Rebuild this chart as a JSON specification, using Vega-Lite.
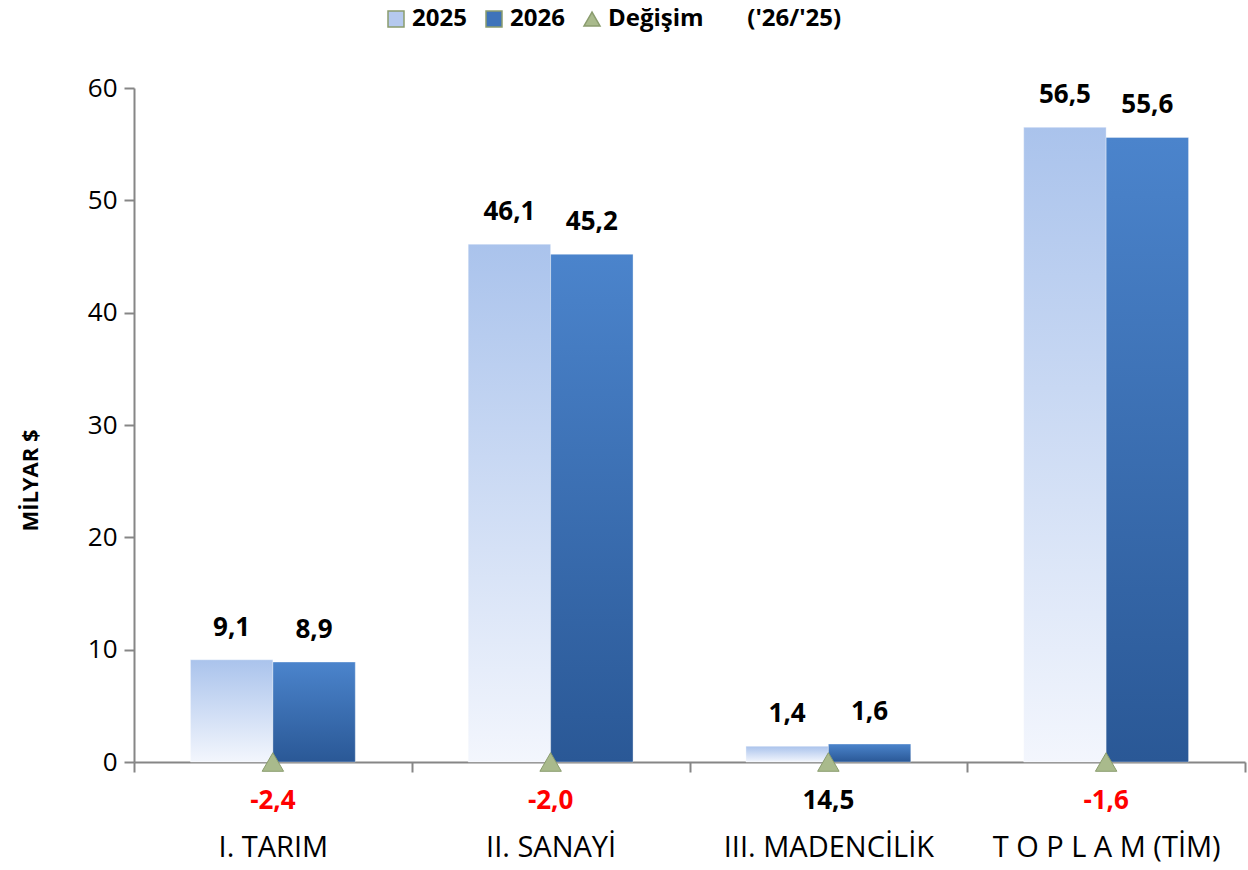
{
  "$schema": "https://vega.github.io/schema/vega-lite/v6.json",
  "width": 1111,
  "height": 674,
  "autosize": {"type": "none"},
  "padding": {"left": 134, "top": 88, "right": 3, "bottom": 108},
  "background": "white",
  "config": {
    "font": "Open Sans",
    "view": {"stroke": null},
    "locale": {"number": {"decimal": ",", "thousands": ".", "grouping": [3], "currency": ["", " $"], "minus": "-"}}
  },
  "datasets": {
    "bars": [
      {"cat": "I. TARIM", "series": "2025", "value": 9.1},
      {"cat": "I. TARIM", "series": "2026", "value": 8.9},
      {"cat": "II. SANAYİ", "series": "2025", "value": 46.1},
      {"cat": "II. SANAYİ", "series": "2026", "value": 45.2},
      {"cat": "III. MADENCİLİK", "series": "2025", "value": 1.4},
      {"cat": "III. MADENCİLİK", "series": "2026", "value": 1.6},
      {"cat": "T O P L A M (TİM)", "series": "2025", "value": 56.5},
      {"cat": "T O P L A M (TİM)", "series": "2026", "value": 55.6}
    ],
    "changes": [
      {"cat": "I. TARIM", "series": "Değişim", "base": 0, "change": -2.4},
      {"cat": "II. SANAYİ", "series": "Değişim", "base": 0, "change": -2.0},
      {"cat": "III. MADENCİLİK", "series": "Değişim", "base": 0, "change": 14.5},
      {"cat": "T O P L A M (TİM)", "series": "Değişim", "base": 0, "change": -1.6}
    ]
  },
  "layer": [
    {
      "data": {"name": "bars"},
      "mark": {"type": "bar", "stroke": "#ffffff", "strokeOpacity": 0.35, "strokeWidth": 1},
      "encoding": {
        "x": {
          "field": "cat", "type": "nominal",
          "sort": ["I. TARIM", "II. SANAYİ", "III. MADENCİLİK", "T O P L A M (TİM)"],
          "scale": {"paddingInner": 0, "paddingOuter": 0},
          "axis": {
            "title": null, "labelAngle": 0, "labelFontSize": 29, "labelColor": "#000000",
            "labelPadding": 84, "tickBand": "extent", "ticks": true, "tickSize": 10,
            "tickColor": "#868686", "tickWidth": 2, "domainColor": "#868686", "domainWidth": 2,
            "labelBaseline": "alphabetic", "labelLimit": 300
          }
        },
        "xOffset": {"field": "series", "type": "nominal", "scale": {"domain": ["2025", "2026"], "paddingInner": 0, "paddingOuter": 0.685}},
        "y": {
          "field": "value", "type": "quantitative",
          "scale": {"domain": [0, 60], "nice": false},
          "axis": {
            "title": "MİLYAR $", "titleFontSize": 22, "titleFontWeight": "bold", "titleColor": "#000000",
            "titleX": -104, "titleY": 392, "titleAngle": -90, "titleAlign": "center", "titleBaseline": "middle",
            "values": [0, 10, 20, 30, 40, 50, 60], "grid": false,
            "labelFontSize": 26, "labelColor": "#000000", "labelPadding": 7,
            "tickSize": 10, "tickColor": "#868686", "tickWidth": 2,
            "domainColor": "#868686", "domainWidth": 2
          }
        },
        "fill": {
          "condition": {
            "test": "datum.series == '2025'",
            "value": {"gradient": "linear", "x1": 0, "y1": 0, "x2": 0, "y2": 1, "stops": [{"offset": 0, "color": "#aac3ec"}, {"offset": 1, "color": "#f3f6fd"}]}
          },
          "value": {"gradient": "linear", "x1": 0, "y1": 0, "x2": 0, "y2": 1, "stops": [{"offset": 0, "color": "#4b84cc"}, {"offset": 1, "color": "#2a5896"}]}
        }
      }
    },
    {
      "data": {"name": "bars"},
      "mark": {"type": "text", "fontSize": 26, "fontWeight": "bold", "color": "#000000", "dy": -24, "baseline": "alphabetic"},
      "encoding": {
        "x": {"field": "cat", "type": "nominal", "sort": ["I. TARIM", "II. SANAYİ", "III. MADENCİLİK", "T O P L A M (TİM)"]},
        "xOffset": {"field": "series", "type": "nominal"},
        "y": {"field": "value", "type": "quantitative"},
        "text": {"field": "value", "type": "quantitative", "format": ".1f"}
      }
    },
    {
      "data": {"name": "changes"},
      "mark": {"type": "point", "filled": true, "size": 460, "opacity": 1, "stroke": "#8a9c6e", "strokeWidth": 1},
      "encoding": {
        "x": {"field": "cat", "type": "nominal", "sort": ["I. TARIM", "II. SANAYİ", "III. MADENCİLİK", "T O P L A M (TİM)"]},
        "y": {"field": "base", "type": "quantitative"},
        "color": {
          "field": "series", "type": "nominal",
          "scale": {"domain": ["2025", "2026", "Değişim"], "range": ["#b5c9ee", "#3e73ba", "#a9ba8c"]},
          "legend": {
            "orient": "none", "legendX": 250, "legendY": -81, "direction": "horizontal", "title": null,
            "labelFontSize": 24, "labelFontWeight": "bold", "labelColor": "#000000", "symbolSize": 256,
            "columnPadding": 15, "labelOffset": 4, "labelLimit": 500,
            "labelExpr": "datum.label == 'Değişim' ? 'Değişim\u00a0\u00a0\u00a0\u00a0\u00a0\u00a0\u00a0(\\'26/\\'25)' : datum.label"
          }
        },
        "shape": {
          "field": "series", "type": "nominal",
          "scale": {"domain": ["2025", "2026", "Değişim"], "range": ["square", "square", "triangle-up"]},
          "legend": {
            "orient": "none", "legendX": 250, "legendY": -81, "direction": "horizontal", "title": null,
            "labelFontSize": 24, "labelFontWeight": "bold", "labelColor": "#000000", "symbolSize": 256,
            "columnPadding": 15, "labelOffset": 4, "labelLimit": 500,
            "labelExpr": "datum.label == 'Değişim' ? 'Değişim\u00a0\u00a0\u00a0\u00a0\u00a0\u00a0\u00a0(\\'26/\\'25)' : datum.label"
          }
        }
      }
    },
    {
      "data": {"name": "changes"},
      "mark": {"type": "text", "fontSize": 26, "fontWeight": "bold", "dy": 47, "baseline": "alphabetic"},
      "encoding": {
        "x": {"field": "cat", "type": "nominal", "sort": ["I. TARIM", "II. SANAYİ", "III. MADENCİLİK", "T O P L A M (TİM)"]},
        "y": {"field": "base", "type": "quantitative"},
        "text": {"field": "change", "type": "quantitative", "format": ".1f"},
        "color": {"condition": {"test": "datum.change < 0", "value": "#ff0000"}, "value": "#000000"}
      }
    }
  ]
}
